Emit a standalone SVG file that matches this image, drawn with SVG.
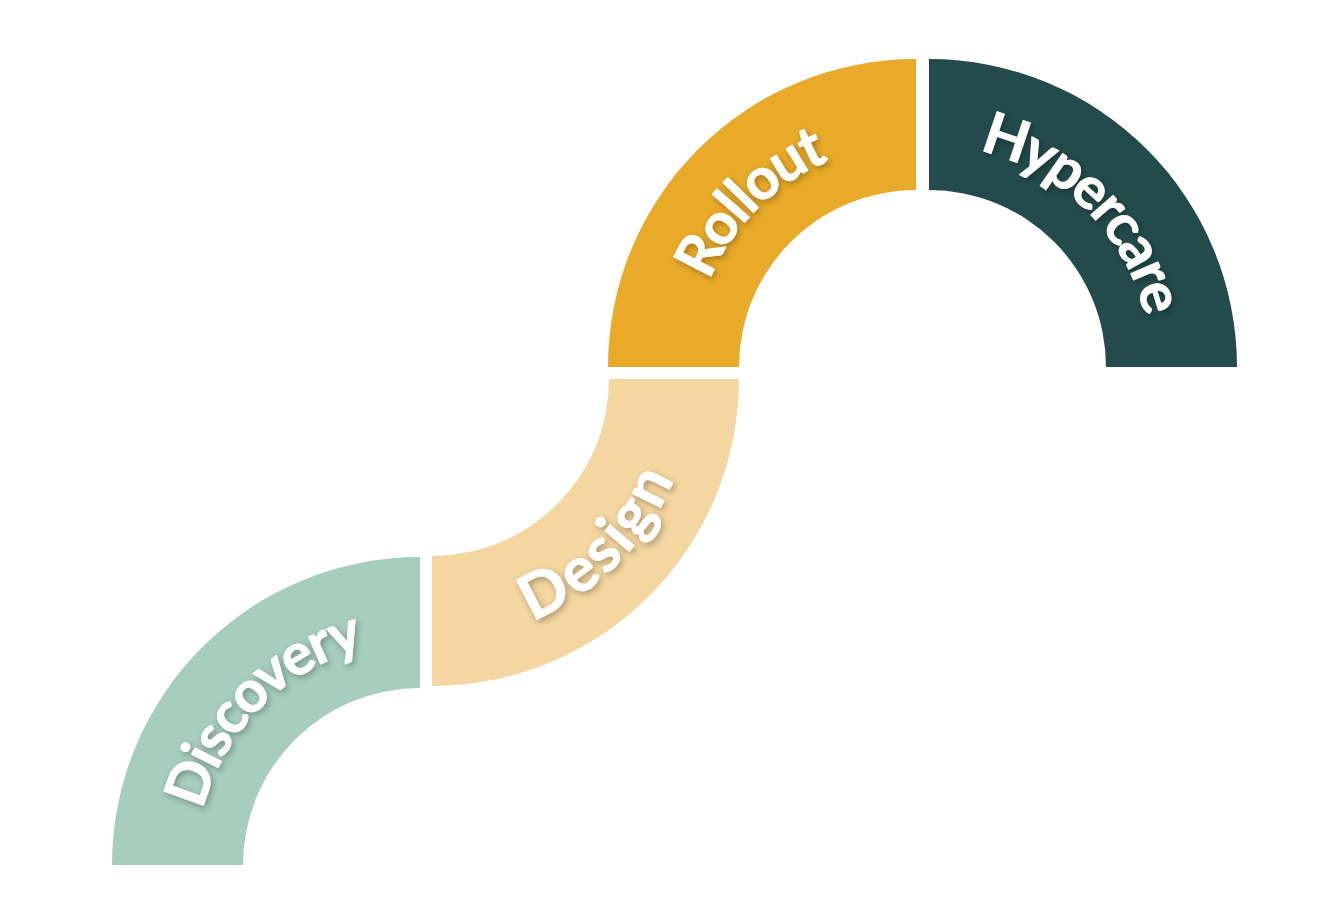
<svg xmlns="http://www.w3.org/2000/svg" xmlns:xlink="http://www.w3.org/1999/xlink" width="1328" height="913" viewBox="0 0 1328 913">
<style>
.lbl{font-family:Lato,"Noto Sans",sans-serif;font-weight:700;font-size:58px;fill:#ffffff;stroke:#ffffff;stroke-width:0.8px;stroke-linejoin:round;filter:url(#sh)}
</style>
<defs>
<filter id="sh" x="-20%" y="-20%" width="140%" height="140%">
<feDropShadow dx="2" dy="2.5" stdDeviation="3" flood-color="#000" flood-opacity="0.3"/>
</filter>
<path id="tp1" d="M178,865 A242,242 0 0 1 420,623"/>
<path id="tp2" d="M432,621 A242,242 0 0 0 674,379"/>
<path id="tp3" d="M674,367 A242,242 0 0 1 916,125"/>
<path id="tp4" d="M929,127 A240,240 0 0 1 1169,367"/>
</defs>
<rect width="1328" height="913" fill="#ffffff"/>
<g id="discovery">
<path d="M112,865 A308,308 0 0 1 420,557 L420,688 A177,177 0 0 0 243,865 Z" fill="#A6CDBD"/>
<text class="lbl" dy="18"><textPath xlink:href="#tp1" href="#tp1" startOffset="50%" text-anchor="middle">Discovery</textPath></text>
</g>
<g id="design">
<path d="M432,556 A177,177 0 0 0 609,379 L739,379 A307,307 0 0 1 432,686 Z" fill="#F4D6A0"/>
<text class="lbl" dy="20" style="font-size:62px;letter-spacing:0.5px"><textPath xlink:href="#tp2" href="#tp2" startOffset="50%" text-anchor="middle">Design</textPath></text>
</g>
<g id="rollout">
<path d="M608,367 A308,308 0 0 1 916,59 L916,190 A177,177 0 0 0 739,367 Z" fill="#EAAA29"/>
<text class="lbl" dy="18"><textPath xlink:href="#tp3" href="#tp3" startOffset="50%" text-anchor="middle">Rollout</textPath></text>
</g>
<g id="hypercare">
<path d="M929,59 A308,308 0 0 1 1237,367 L1106,367 A177,177 0 0 0 929,190 Z" fill="#244B4B"/>
<text class="lbl" dy="18" style="letter-spacing:-0.5px"><textPath xlink:href="#tp4" href="#tp4" startOffset="50%" text-anchor="middle">Hypercare</textPath></text>
</g>
<g id="connectors"/>
</svg>
